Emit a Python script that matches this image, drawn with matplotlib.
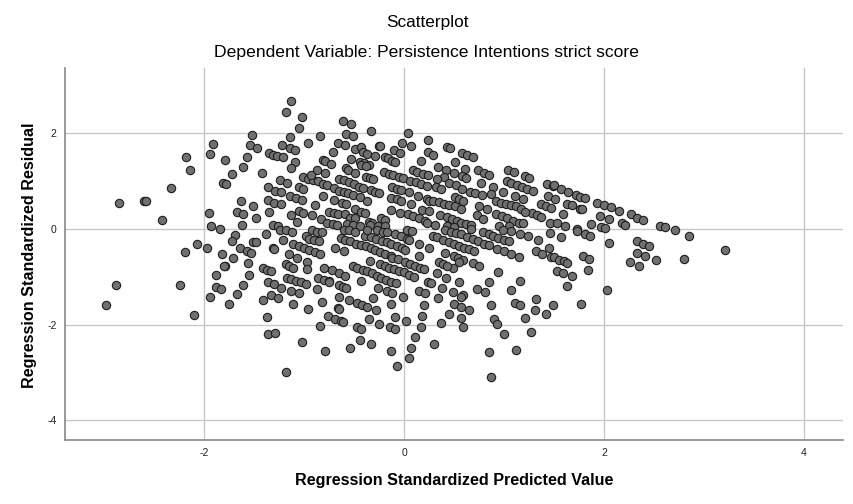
import matplotlib
matplotlib.use("Agg")
import matplotlib.pyplot as plt

plt.rcParams["axes.unicode_minus"] = False

# Regression standardized predicted value (x) and standardized residual (y)
pred = [
 -1.52,-1.91,-1.54,-2.18,-1.94,-1.57,-1.79,-1.61,-2.14,-1.72,-2.33,-1.81,-1.78,-2.85,-2.60,-2.58,-1.63,-1.51,
 -2.42,-1.95,-1.67,-1.61,-1.93,-1.84,-1.62,
 -1.69,-1.72,-1.51,-2.07,-1.97,-2.19,-1.64,-1.57,-1.53,-1.82,-1.71,-1.79,-1.80,-1.56,-1.88,-1.55,-2.88,-2.24,
 -1.88,-1.83,-1.61,-1.94,-1.67,-1.75,-2.98,-2.10,
 -1.13,-1.18,-1.02,-1.05,-0.61,-0.53,-0.33,-1.14,-0.84,-0.58,-0.51,-1.47,-0.96,-1.14,-1.09,-1.22,-0.66,-0.59,
 -0.71,-0.49,-0.43,-0.25,-0.24,-1.35,-1.31,-1.27,-1.21,-1.09,-1.13,-0.53,-0.41,-0.37,-0.29,-0.19,-0.16,-0.10,
 -0.04,-0.02,-0.12,-0.09,-0.81,-0.79,-0.73,-0.87,-0.79,-0.58,-0.56,-0.49,-0.44,-0.40,-0.35,-0.43,-0.38,-1.42,
 -1.01,-0.96,-0.91,-0.93,-0.86,-0.81,-0.77,-0.65,-0.60,-0.55,-0.50,-0.45,-0.41,-0.38,-0.34,-0.31,-0.20,-0.15,
 -0.11,-0.05,-0.01,-1.24,-1.17,-1.36,-1.29,-1.23,-1.05,-1.01,-1.14,-1.08,-1.02,-0.81,-0.70,-0.65,-0.60,-0.56,
 -0.70,-0.62,-0.58,-0.51,-0.44,-0.37,-0.33,-0.29,-0.25,-0.12,-0.07,-0.03,-0.13,-0.07,-0.03,-1.36,-1.30,-1.23,
 -0.89,-1.48,-1.35,-1.13,-1.05,-1.01,-1.07,-0.92,-0.83,-0.75,-0.70,-0.66,-0.77,-0.71,-0.67,-0.59,-0.54,-0.49,
 -0.49,-0.43,-0.39,-0.57,-0.51,-0.35,-0.32,-0.23,-0.19,-0.13,-0.04,-1.31,-1.26,-0.44,-0.34,-0.26,-0.19,
 -1.38,-1.48,-1.21,-1.24,-1.18,-1.12,-0.98,-0.95,-0.90,-0.85,-0.92,-0.87,-0.82,-1.11,-1.05,-1.00,-0.95,-0.89,
 -0.84,-1.31,-1.30,-1.15,-1.07,-0.69,-0.60,-0.63,-0.59,-0.54,-0.48,-0.43,-0.38,-0.33,-0.29,-0.24,-0.19,-0.13,
 -0.60,-0.55,-0.49,-0.39,-0.33,-0.28,-0.22,-0.17,-0.13,-0.07,-0.02,-0.37,-0.27,-0.21,-0.17,-0.09,-0.03,-0.12,
 -0.06,-0.34,-1.18,-1.15,-1.11,-0.97,-0.97,-1.41,-1.37,-1.33,-0.80,-0.72,-0.65,-0.59,-0.51,-0.47,-0.41,-0.37,
 -0.32,-0.27,-0.23,-0.18,-0.13,-0.08,-0.24,-0.19,-0.15,-0.10,-0.05,-1.17,-1.13,-1.08,-1.03,-0.98,-0.86,-0.80,
 -0.75,-0.75,-1.36,-1.30,-1.23,-1.13,-1.05,-0.87,-0.65,-0.61,-0.58,-0.43,-0.26,-0.17,-0.12,-0.01,-1.41,-1.33,
 -1.26,-1.11,-0.96,-0.82,-0.65,-0.55,-0.47,-0.42,-0.37,-0.66,-0.65,-0.31,-0.28,-0.13,-1.37,-0.76,-0.69,-0.63,
 -0.61,-0.84,-0.47,-0.43,-0.35,-0.25,-0.09,-0.14,-0.09,-1.36,-1.29,-1.02,-0.79,-0.54,-0.44,-0.33,-0.13,-0.07,
 -1.18,
 0.04,0.24,0.07,0.24,0.29,0.43,0.46,0.58,0.63,0.69,0.17,0.51,0.34,0.09,0.13,0.19,0.24,0.42,0.50,0.61,0.74,
 0.80,0.85,0.40,0.58,0.62,0.33,1.04,1.10,1.21,1.25,0.06,0.12,0.17,0.23,0.32,0.37,0.45,0.52,0.58,0.66,0.71,
 0.78,0.77,0.89,0.87,0.99,1.03,1.07,1.13,1.18,1.23,1.29,1.43,1.49,0.05,0.14,0.23,0.25,0.29,0.35,0.40,0.45,
 0.51,0.57,0.51,0.55,0.59,0.07,0.75,0.83,0.92,0.97,1.02,1.07,1.12,1.17,1.11,1.19,1.37,1.42,1.47,1.44,1.28,
 1.33,1.37,1.21,0.04,0.09,0.15,0.21,0.18,0.25,0.36,0.43,0.48,0.53,0.57,0.62,0.67,0.73,0.79,0.92,0.98,1.03,
 1.09,1.15,1.19,1.46,0.23,0.31,0.43,0.50,0.95,1.05,
 0.03,0.08,0.29,0.33,0.39,0.45,0.50,0.55,0.60,0.65,0.70,0.41,0.47,0.52,0.57,0.63,0.69,0.74,0.67,0.79,0.85,
 0.89,0.80,0.85,0.94,1.00,1.05,0.93,1.00,1.07,1.15,1.16,1.24,0.99,1.07,1.34,1.32,1.38,1.46,1.45,1.47,0.03,
 0.05,0.15,0.25,0.01,0.15,0.41,0.50,0.54,0.59,0.55,0.49,0.35,0.39,0.43,0.69,0.75,0.01,0.06,0.11,0.16,0.20,
 0.00,0.05,0.10,0.33,0.42,0.24,0.27,0.55,0.15,0.21,0.38,0.49,0.59,0.57,0.73,0.81,0.85,0.94,1.16,1.07,0.34,
 0.20,0.50,0.57,0.65,0.45,0.87,1.11,1.16,1.32,1.31,1.49,0.18,0.02,0.57,0.37,0.59,0.90,0.93,1.21,1.42,0.17,
 0.11,0.07,0.05,0.30,1.00,1.27,0.85,1.12,0.87,
 1.50,1.57,1.64,1.72,1.76,1.81,1.51,1.63,1.68,1.76,1.78,1.93,2.00,2.07,2.15,1.59,1.96,2.05,2.27,2.33,2.39,
 1.53,1.61,1.87,1.97,2.01,2.18,2.21,2.56,2.61,2.71,1.73,
 1.57,1.73,1.81,1.86,2.05,1.50,1.55,1.60,1.63,1.79,1.85,1.53,1.59,1.84,1.68,1.63,2.03,1.77,2.33,2.39,2.45,
 2.33,2.41,2.26,2.35,2.52,2.85,2.80,3.21,
]

resid = [
 1.97,1.78,1.75,1.50,1.56,1.51,1.44,1.30,1.22,1.14,0.86,0.96,0.93,0.53,0.59,0.58,0.59,0.48,
 0.19,0.33,0.36,0.31,0.07,0.00,0.08,
 -0.13,-0.26,-0.28,-0.32,-0.40,-0.48,-0.40,-0.46,-0.50,-0.52,-0.60,-0.77,-0.78,-0.72,-0.97,-0.97,-1.18,-1.18,
 -1.22,-1.25,-1.17,-1.42,-1.37,-1.56,-1.60,-1.79,
 2.67,2.45,2.33,2.10,2.26,2.20,2.05,1.92,1.94,1.99,1.94,1.69,1.79,1.68,1.64,1.75,1.80,1.75,
 1.60,1.67,1.71,1.74,1.73,1.59,1.55,1.53,1.50,1.40,1.27,1.46,1.60,1.57,1.52,1.51,1.47,1.64,
 1.58,1.79,1.41,1.40,1.44,1.41,1.36,1.23,1.16,1.27,1.23,1.16,1.39,1.37,1.33,1.34,1.32,1.16,
 1.09,1.05,1.02,1.12,0.99,0.93,0.91,1.05,1.02,0.97,0.93,0.88,0.86,1.09,1.07,1.05,1.19,1.15,
 1.12,1.09,1.07,1.02,0.96,0.87,0.80,0.77,0.88,0.84,0.69,0.65,0.61,0.69,0.86,0.80,0.77,0.74,
 0.61,0.54,0.51,0.70,0.67,0.59,0.81,0.77,0.74,0.88,0.84,0.81,0.65,0.62,0.59,0.61,0.55,0.51,
 0.50,0.22,0.36,0.30,0.37,0.34,0.14,0.28,0.20,0.36,0.33,0.31,0.12,0.10,0.08,0.31,0.23,0.22,
 0.42,0.35,0.34,0.10,0.08,0.15,0.12,0.23,0.19,0.40,0.33,0.09,0.05,0.06,0.08,0.06,0.05,
 -0.11,-0.28,-0.24,-0.03,-0.03,-0.06,-0.15,-0.21,-0.24,-0.26,-0.03,-0.06,-0.06,-0.32,-0.36,-0.40,-0.45,-0.49,
 -0.52,-0.40,-0.43,-0.53,-0.60,-0.40,-0.47,-0.20,-0.24,-0.26,-0.31,-0.33,-0.36,-0.40,-0.45,-0.49,-0.53,-0.56,
 -0.03,-0.03,-0.06,-0.14,-0.18,-0.21,-0.25,-0.28,-0.31,-0.35,-0.39,-0.03,-0.03,-0.06,-0.07,-0.10,-0.14,-0.60,
 -0.63,-0.67,-0.74,-0.78,-0.81,-0.70,-0.84,-0.82,-0.86,-0.89,-0.81,-0.86,-0.92,-0.98,-0.77,-0.81,-0.85,-0.89,
 -0.93,-0.98,-1.02,-1.06,-1.10,-1.13,-0.74,-0.78,-0.81,-0.84,-0.89,-1.02,-1.04,-1.09,-1.11,-1.16,-1.02,-1.06,
 -1.09,-1.10,-1.11,-1.16,-1.23,-1.30,-1.35,-1.25,-1.17,-1.21,-1.23,-1.09,-1.23,-1.30,-1.34,-1.42,-1.49,-1.39,
 -1.45,-1.56,-1.67,-1.53,-1.42,-1.49,-1.55,-1.59,-1.63,-1.66,-1.67,-1.45,-1.70,-1.57,-1.85,-1.83,-1.88,-1.92,
 -1.95,-2.02,-2.06,-2.09,-1.89,-1.98,-1.85,-2.06,-2.10,-2.20,-2.17,-2.37,-2.55,-2.49,-2.33,-2.41,-2.56,-2.86,
 -3.00,
 2.01,1.85,1.73,1.61,1.55,1.71,1.68,1.58,1.54,1.51,1.41,1.39,1.29,1.23,1.19,1.15,1.12,1.22,1.16,1.25,1.22,
 1.16,1.13,1.09,1.11,1.07,1.05,1.23,1.19,1.11,1.07,1.01,0.97,0.93,0.90,0.87,0.83,0.95,0.91,0.83,0.77,0.74,
 0.70,0.95,0.87,0.72,0.77,1.01,0.95,0.91,0.88,0.84,0.80,0.93,0.90,0.76,0.69,0.62,0.58,0.59,0.56,0.52,0.49,
 0.47,0.42,0.66,0.63,0.59,0.51,0.48,0.41,0.59,0.55,0.52,0.49,0.47,0.41,0.69,0.62,0.51,0.47,0.44,0.69,0.34,
 0.29,0.24,0.35,0.31,0.26,0.22,0.17,0.40,0.37,0.28,0.24,0.20,0.16,0.12,0.10,0.08,0.29,0.20,0.31,0.27,0.23,
 0.17,0.13,0.12,0.13,0.12,0.08,0.05,0.03,0.06,0.06,
 -0.03,-0.04,-0.15,-0.18,-0.24,-0.28,-0.31,-0.36,-0.40,-0.43,-0.47,-0.03,-0.06,-0.08,-0.11,-0.17,-0.22,-0.25,
 0.00,-0.06,-0.10,-0.14,-0.31,-0.33,-0.20,-0.24,-0.26,-0.42,-0.46,-0.52,-0.59,-0.10,-0.15,-0.03,-0.04,-0.24,
 -0.47,-0.52,-0.08,-0.40,-0.59,-0.21,-0.24,-0.31,-0.39,-0.45,-0.56,-0.50,-0.57,-0.60,-0.64,-0.70,-0.82,-0.70,
 -0.74,-0.78,-0.72,-0.77,-0.70,-0.74,-0.77,-0.81,-0.84,-0.91,-0.96,-1.00,-0.93,-1.02,-1.11,-1.14,-1.11,-1.30,
 -1.34,-1.23,-1.31,-1.38,-1.42,-1.25,-1.31,-1.10,-0.91,-1.09,-1.27,-1.45,-1.59,-1.56,-1.63,-1.69,-1.77,-1.60,
 -1.55,-1.59,-1.46,-1.70,-1.60,-1.81,-1.92,-1.87,-1.96,-2.05,-1.88,-1.99,-1.87,-1.78,-2.06,-2.26,-2.48,-2.70,
 -2.40,-2.20,-2.16,-2.58,-2.54,-3.09,
 0.91,0.83,0.77,0.70,0.66,0.65,0.63,0.52,0.49,0.42,0.41,0.55,0.49,0.45,0.37,0.31,0.27,0.20,0.31,0.23,0.19,
 0.12,0.06,0.10,0.03,0.01,0.12,0.09,0.06,0.03,-0.02,-0.01,
 -0.17,-0.04,-0.10,-0.14,-0.29,-0.59,-0.64,-0.68,-0.71,-0.57,-0.63,-0.88,-0.92,-0.86,-0.99,-1.20,-1.27,-1.56,
 -0.26,-0.31,-0.35,-0.50,-0.56,-0.70,-0.77,-0.65,-0.15,-0.63,-0.45,
]

x_ticks = [-2, 0, 2, 4]
y_ticks = [-4, -2, 0, 2]

W, H = 854, 504
fig = plt.figure(figsize=(W / 100, H / 100), dpi=100)
ax = fig.add_axes([65 / W, 1 - 440 / H, (843 - 65) / W, (440 - 68) / H])

font = "Liberation Sans"
ax.set_axisbelow(True)
ax.grid(True, color="#c8c8c8", linewidth=1.0)
ax.scatter(pred, resid, s=36, facecolor="#707070", edgecolor="#1e1e1e",
           linewidth=0.8, zorder=3)

ax.set_xlim(-3.39, 4.39)
ax.set_ylim(-4.41, 3.36)
ax.set_xticks(x_ticks)
ax.set_yticks(y_ticks)
ax.tick_params(length=0, labelsize=7.5, colors="#222222", pad=6)
for lab in ax.get_xticklabels() + ax.get_yticklabels():
    lab.set_fontfamily(font)
for s in ["top", "right"]:
    ax.spines[s].set_visible(False)
for s in ["left", "bottom"]:
    ax.spines[s].set_color("#888888")
    ax.spines[s].set_linewidth(1.2)

ax.set_xlabel("Regression Standardized Predicted Value", fontsize=11.6,
              fontweight="bold", fontfamily=font)
ax.set_ylabel("Regression Standardized Residual", fontsize=11.6,
              fontweight="bold", fontfamily=font)
ax.xaxis.set_label_coords(0.5, (440 - 480) / 372)
ax.yaxis.set_label_coords((30 - 65) / 778, (440 - 255) / 372)
ax.xaxis.label.set_va("center")
ax.yaxis.label.set_va("center")

fig.text(0.5, 1 - 22 / H, "Scatterplot", ha="center", va="center",
         fontsize=12.4, fontfamily=font)
fig.text(0.5, 1 - 53 / H, "Dependent Variable: Persistence Intentions strict score",
         ha="center", va="center", fontsize=12.6, fontfamily=font)

fig.savefig("out.png", dpi=100)
